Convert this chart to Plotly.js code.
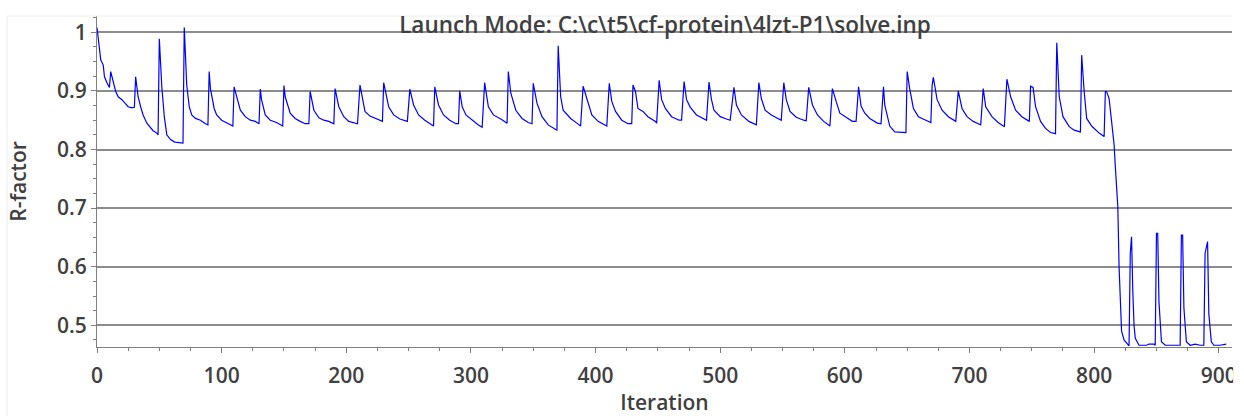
<!DOCTYPE html>
<html>
<head>
<meta charset="utf-8">
<script src="https://cdn.plot.ly/plotly-3.0.1.min.js"></script>
<style>html,body{margin:0;padding:0;background:#fff;}#chart{width:1244px;height:416px;}</style>
</head>
<body>
<div id="chart"></div>
<script>
// Iteration numbers
const iteration = [
0,1,3,5,6,8,10,11,13,15,17,20,23,25,28,30,31,33,35,37,40,43,45,48,49,
50,52,54,56,59,62,64,67,69,70,72,74,76,79,83,87,89,
90,91,94,96,100,104,109,110,112,115,119,123,127,130,
131,132,135,139,144,149,150,151,155,159,163,167,170,
171,174,178,182,186,190,191,194,198,202,206,209,
211,213,215,219,225,229,230,234,238,243,249,
251,254,258,263,267,270,271,274,278,283,288,290,
291,293,296,301,306,309,311,314,318,324,329,
330,332,336,341,346,349,350,353,357,362,368,369,
370,372,374,380,385,388,390,393,397,402,405,409,
411,413,416,421,426,429,430,432,434,438,442,448,449,
451,453,456,461,467,469,471,473,476,481,487,489,
491,493,495,500,505,508,511,513,517,523,529,
531,533,536,541,547,549,551,553,556,561,567,569,
571,574,578,583,588,590,593,596,601,606,609,
611,613,616,620,626,629,631,632,636,640,644,649,
650,652,655,659,665,669,670,671,674,678,683,689,
691,694,698,703,707,709,711,713,718,723,728,
730,733,737,742,748,749,751,753,757,761,765,769,
770,772,775,780,784,789,790,792,794,798,804,808,
809,810,812,814,816,817,819,820,821,822,824,826,828,
829,830,831,832,833,836,842,844,848,849,
850,851,852,854,857,864,869,870,871,872,874,877,881,885,888,
889,891,892,894,896,901,906
];
// R-factor values
const rFactor = [
1.008,0.987,0.953,0.944,0.924,0.914,0.906,0.933,0.916,0.899,0.890,0.885,0.878,0.873,0.871,0.872,0.924,0.890,0.873,0.859,0.845,0.838,0.832,0.828,0.825,
0.989,0.907,0.856,0.825,0.817,0.813,0.812,0.812,0.811,1.008,0.910,0.873,0.859,0.853,0.850,0.844,0.842,
0.933,0.904,0.870,0.859,0.850,0.845,0.840,0.907,0.890,0.867,0.856,0.850,0.848,0.844,
0.903,0.885,0.859,0.850,0.846,0.840,0.909,0.890,0.862,0.853,0.848,0.844,0.844,
0.899,0.867,0.854,0.850,0.848,0.844,0.904,0.873,0.856,0.848,0.845,0.844,
0.910,0.885,0.865,0.857,0.852,0.848,0.914,0.873,0.859,0.852,0.848,
0.903,0.876,0.859,0.850,0.845,0.840,0.907,0.876,0.859,0.850,0.844,0.844,
0.900,0.873,0.859,0.850,0.842,0.838,0.914,0.873,0.859,0.852,0.845,
0.933,0.896,0.867,0.853,0.846,0.844,0.913,0.879,0.856,0.842,0.834,0.833,
0.977,0.890,0.867,0.853,0.845,0.840,0.908,0.885,0.859,0.848,0.844,0.840,
0.913,0.882,0.865,0.850,0.844,0.844,0.910,0.899,0.870,0.865,0.856,0.848,0.845,
0.918,0.885,0.870,0.856,0.850,0.850,0.916,0.885,0.872,0.859,0.852,0.850,
0.915,0.885,0.867,0.856,0.852,0.850,0.906,0.876,0.859,0.848,0.842,
0.914,0.887,0.867,0.859,0.852,0.850,0.914,0.885,0.865,0.855,0.850,0.849,
0.906,0.876,0.859,0.848,0.840,0.904,0.882,0.862,0.855,0.848,0.848,
0.907,0.874,0.862,0.853,0.845,0.844,0.907,0.876,0.840,0.830,0.829,0.829,
0.933,0.904,0.870,0.856,0.850,0.846,0.910,0.923,0.885,0.867,0.856,0.848,
0.900,0.870,0.856,0.848,0.844,0.842,0.904,0.873,0.856,0.846,0.839,
0.920,0.890,0.867,0.856,0.848,0.908,0.906,0.873,0.848,0.836,0.829,0.827,
0.982,0.890,0.856,0.839,0.833,0.830,0.961,0.899,0.853,0.840,0.828,0.822,
0.899,0.899,0.887,0.848,0.808,0.771,0.702,0.600,0.526,0.490,0.475,0.469,0.465,
0.623,0.651,0.560,0.500,0.478,0.466,0.466,0.468,0.468,0.466,
0.657,0.657,0.540,0.472,0.466,0.466,0.466,0.654,0.654,0.530,0.472,0.466,0.468,0.466,0.466,
0.623,0.643,0.520,0.472,0.466,0.466,0.468
];
const xTicks = [0,100,200,300,400,500,600,700,800,900];
const yTicks = [0.5,0.6,0.7,0.8,0.9,1.0];
const yTickText = ['0.5','0.6','0.7','0.8','0.9','1'];
const titleText = 'Launch Mode: C:\\c\\t5\\cf-protein\\4lzt-P1\\solve.inp';

const txt = {family:'Open Sans', size:21, color:'#404040', weight:600};
const trace = {x: iteration, y: rFactor, type:'scatter', mode:'lines',
  line:{color:'#0000ff', width:1.2}, hoverinfo:'skip'};

const layout = {
  width:1244, height:416,
  margin:{l:97, r:12, t:16, b:69, pad:0},
  paper_bgcolor:'#ffffff', plot_bgcolor:'#ffffff',
  showlegend:false,
  title:{text:titleText, font:{family:'Open Sans', size:22.5, color:'#404040', weight:600},
    xref:'container', x:665/1244, xanchor:'center', yref:'container', y:1-25/416, yanchor:'middle'},
  xaxis:{range:[0,910.6], tickmode:'array', tickvals:xTicks, ticks:'outside', ticklen:5, tickwidth:1,
    ticklabelstandoff:5,
    tickcolor:'#808080', showline:true, linecolor:'#808080', linewidth:1, showgrid:false, zeroline:false,
    minor:{dtick:25, tick0:0, ticks:'outside', ticklen:3, tickcolor:'#808080', showgrid:false},
    tickfont:txt, title:{text:'Iteration', font:txt, standoff:12}},
  yaxis:{range:[0.463,1.0278], tickmode:'array', tickvals:yTicks, ticktext:yTickText, ticks:'outside', ticklen:5,
    tickcolor:'#808080', showline:true, linecolor:'#808080', linewidth:1, zeroline:false,
    showgrid:true, gridcolor:'#8c8c8c', gridwidth:2,
    minor:{dtick:0.025, tick0:0.5, ticks:'outside', ticklen:3, tickcolor:'#808080', showgrid:false},
    tickfont:txt, title:{text:'R-factor', font:txt, standoff:24}},
  shapes:[
    {type:'line', xref:'paper', yref:'paper', x0:-90/1135, x1:1, y0:1, y1:1, line:{color:'#ececec', width:1}},
    {type:'line', xref:'paper', yref:'paper', x0:-90/1135, x1:-90/1135, y0:1, y1:-0.25, line:{color:'#ececec', width:1}},
    {type:'rect', xref:'paper', yref:'paper', x0:1.001, x1:1.02, y0:-0.21, y1:-0.004, fillcolor:'#ffffff', line:{width:0}, layer:'above'}
  ]
};
Plotly.newPlot('chart', [trace], layout, {displayModeBar:false, staticPlot:true});
</script>
</body>
</html>
